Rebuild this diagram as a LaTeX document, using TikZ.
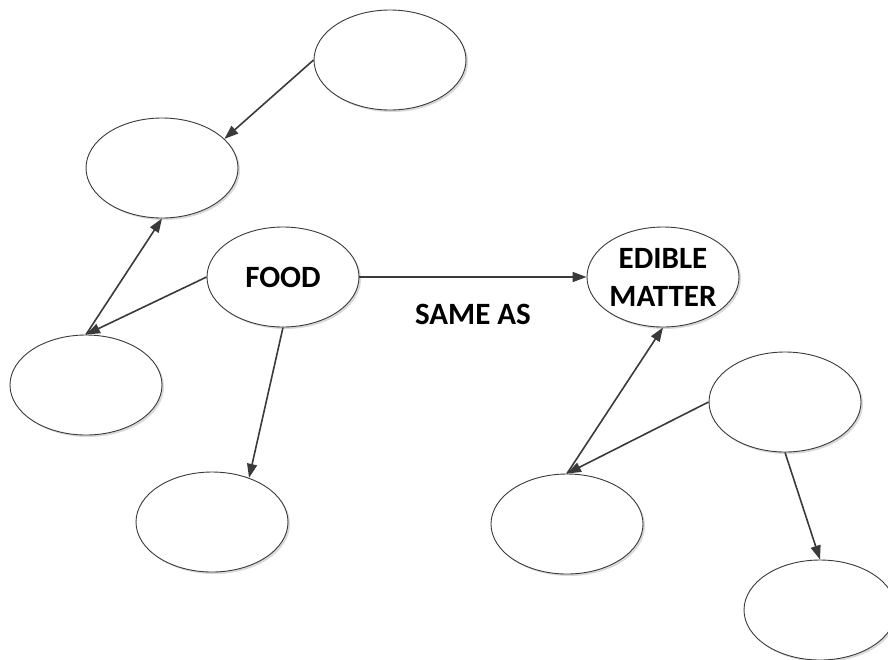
\documentclass[tikz,border=0pt]{standalone}
\usepackage{fontspec}
\setmainfont{Carlito}
\usetikzlibrary{shapes.geometric,arrows.meta,shadows}
\definecolor{ink}{HTML}{3A3A3A}
\tikzset{
  bubble/.style={ellipse, draw=ink, line width=0.9pt, fill=white,
    minimum width=152pt, minimum height=100pt, inner sep=0pt,
    align=center, font=\bfseries\fontsize{31}{38}\selectfont,
    drop shadow={shadow xshift=2pt, shadow yshift=-2pt, fill=black!25, opacity=0.6}},
  link/.style={draw=ink, line width=1.6pt, -{Triangle[length=14pt,width=10pt]}},
  caption/.style={font=\bfseries\fontsize{31}{38}\selectfont, inner sep=0pt}
}
\begin{document}
\begin{tikzpicture}[x=1pt,y=-1pt]
  \useasboundingbox (0,0) rectangle (888,659);
  \clip (0,0) rectangle (888,659);
  % ellipses of the left cluster
  \node[bubble] (top)   at (390,60)  {};
  \node[bubble] (ul)    at (162,168) {};
  \node[bubble] (food)  at (283,277) {FOOD};
  \node[bubble] (left)  at (86,385)  {};
  \node[bubble] (bl)    at (212,522) {};
  % ellipses of the right cluster
  \node[bubble] (edible) at (663,277) {EDIBLE\\MATTER};
  \node[bubble] (right)  at (785,402) {};
  \node[bubble] (bm)     at (567,524) {};
  \node[bubble] (br)     at (820,610) {};
  % connectors
  \draw[link] (top.west) -- (ul.25);
  \draw[link] (left.north) -- (ul.south);
  \draw[link] (food.west) -- (left.north);
  \draw[link] (food.south) -- (bl.50);
  \draw[link] (food.east) -- (edible.west);
  \draw[link] (right.west) -- (bm.north);
  \draw[link] (bm.north) -- (edible.south);
  \draw[link] (right.south) -- (br.north);
  \node[caption] (same) at (473,314) {SAME AS};
\end{tikzpicture}
\end{document}
